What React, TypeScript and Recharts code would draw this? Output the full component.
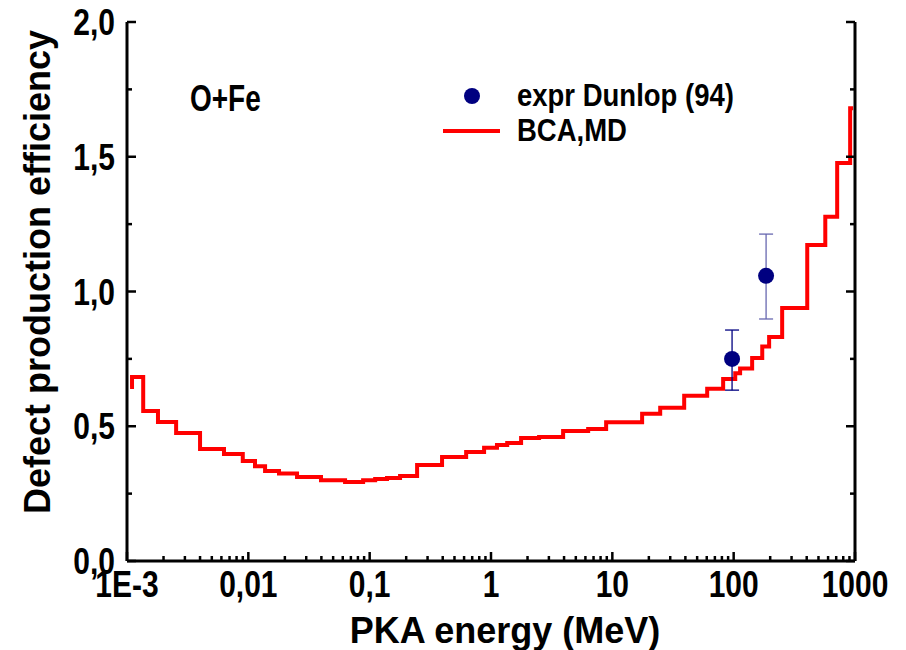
import React from "react";
import {
  ComposedChart,
  Line,
  Scatter,
  ErrorBar,
  XAxis,
  YAxis,
  Customized,
} from "recharts";

// BCA,MD step curve: energy (MeV) where each step starts, and its value
const bcaEnergy = [
  0.00106, 0.0011, 0.00136, 0.0018, 0.00254, 0.004, 0.0063, 0.009, 0.01135,
  0.01374, 0.0179, 0.0252, 0.0397, 0.0627, 0.0883, 0.111, 0.139, 0.178, 0.246,
  0.395, 0.624, 0.877, 1.12, 1.36, 1.77, 2.49, 3.93, 6.32, 8.89, 17.6, 24.8,
  39.1, 60.5, 81.9, 103, 113, 142, 172, 196, 251, 404, 569, 713, 912, 965,
];
const bcaEff = [
  0.646, 0.683, 0.557, 0.516, 0.475, 0.416, 0.397, 0.371, 0.352, 0.334, 0.325,
  0.312, 0.3, 0.293, 0.3, 0.304, 0.308, 0.315, 0.356, 0.386, 0.404, 0.42, 0.43,
  0.438, 0.456, 0.46, 0.482, 0.49, 0.515, 0.546, 0.569, 0.613, 0.639, 0.675,
  0.697, 0.714, 0.753, 0.796, 0.831, 0.939, 1.173, 1.277, 1.477, 1.68, 1.68,
];

// expr Dunlop (94)
const dunlopEnergy = [97, 185];
const dunlopEff = [0.75, 1.058];
const dunlopErrLow = [0.116, 0.16];
const dunlopErrHigh = [0.107, 0.155];

const xMajor = [0.001, 0.01, 0.1, 1, 10, 100, 1000];
const xLabels = ["1E-3", "0,01", "0,1", "1", "10", "100", "1000"];
const yMajor = [0, 0.5, 1, 1.5, 2];
const yLabels = ["0,0", "0,5", "1,0", "1,5", "2,0"];
const yMinor = [0.25, 0.75, 1.25, 1.75];

const FONT = "'Liberation Sans', Arial, sans-serif";

const bcaData = bcaEnergy.map((e, i) => ({ e, v: bcaEff[i] }));
const dunlopData = dunlopEnergy.map((e, i) => ({
  e,
  v: dunlopEff[i],
  err: [dunlopErrLow[i], dunlopErrHigh[i]],
}));

const xMinor: number[] = [];
xMajor.slice(0, -1).forEach((d) => {
  for (let k = 2; k <= 9; k++) xMinor.push(d * k);
});
const xTicks = [...xMajor, ...xMinor];

const isMajorX = (v: number) => xMajor.findIndex((m) => Math.abs(v / m - 1) < 1e-6);

// bold text, a bit taller than wide like the original export
const SText = ({ x, y, sy = 1.2, size, anchor = "start", children }: any) => (
  <text
    transform={`translate(${x},${y}) scale(1,${sy})`}
    x={0}
    y={0}
    textAnchor={anchor}
    fontFamily={FONT}
    fontWeight="bold"
    fontSize={size}
    fill="#000"
  >
    {children}
  </text>
);

const XTick = (props: any) => {
  const { x, y, payload } = props;
  const idx = isMajorX(payload.value);
  const major = idx >= 0;
  return (
    <g>
      <line x1={x} x2={x} y1={y} y2={y - (major ? 9 : 5)} stroke="#000" strokeWidth={2.5} />
      {major && (
        <SText x={x} y={y + 36} size={30} anchor="middle">
          {xLabels[idx]}
        </SText>
      )}
    </g>
  );
};

const YTickLeft = (props: any) => {
  const { x, y, payload } = props;
  const idx = yMajor.indexOf(payload.value);
  const major = idx >= 0;
  return (
    <g>
      <line x1={x} x2={x + (major ? 9 : 5)} y1={y} y2={y} stroke="#000" strokeWidth={2.5} />
      {major && (
        <SText x={x - 12} y={y + 13} size={30} anchor="end">
          {yLabels[idx]}
        </SText>
      )}
    </g>
  );
};

const YTickRight = (props: any) => {
  const { x, y, payload } = props;
  const major = yMajor.indexOf(payload.value) >= 0;
  return (
    <line x1={x} x2={x - (major ? 9 : 5)} y1={y} y2={y} stroke="#000" strokeWidth={2.5} />
  );
};

const Dot = (props: any) => {
  const { cx, cy } = props;
  return <circle cx={cx} cy={cy} r={8} fill="#000080" />;
};

const Overlay = () => (
  <g>
    <SText x={190} y={111} size={28} sy={1.35}>
      O+Fe
    </SText>
    <circle cx={472} cy={96} r={8} fill="#000080" />
    <SText x={517} y={106} size={27.5} sy={1.15}>
      expr Dunlop (94)
    </SText>
    <line x1={443} x2={500} y1={131} y2={131} stroke="#ff0000" strokeWidth={4} />
    <SText x={517} y={141} size={27.5} sy={1.15}>
      BCA,MD
    </SText>
    <SText x={505} y={643} size={36} sy={1.05} anchor="middle">
      PKA energy (MeV)
    </SText>
    <text
      x={0}
      y={0}
      fontFamily={FONT}
      fontWeight="bold"
      fontSize={36}
      textAnchor="middle"
      fill="#000"
      transform="translate(50, 272) rotate(-90)"
    >
      Defect production efficiency
    </text>
  </g>
);

export default function App() {
  return (
    <div style={{ position: "absolute", left: 0, top: 0, background: "#fff" }}>
      <ComposedChart
        width={906}
        height={650}
        margin={{ top: 22, right: 0, left: 0, bottom: 0 }}
      >
        <XAxis
          dataKey="e"
          type="number"
          scale="log"
          domain={[0.001, 1000]}
          allowDataOverflow
          ticks={xTicks}
          interval={0}
          height={89}
          tickSize={0}
          tickMargin={0}
          tickLine={false}
          axisLine={{ stroke: "#000", strokeWidth: 3 }}
          tick={<XTick />}
        />
        <YAxis
          yAxisId="l"
          type="number"
          domain={[0, 2]}
          allowDataOverflow
          ticks={[...yMajor, ...yMinor]}
          interval={0}
          width={127}
          tickSize={0}
          tickMargin={0}
          tickLine={false}
          axisLine={{ stroke: "#000", strokeWidth: 3 }}
          tick={<YTickLeft />}
        />
        <YAxis
          yAxisId="r"
          orientation="right"
          type="number"
          domain={[0, 2]}
          allowDataOverflow
          ticks={[...yMajor, ...yMinor]}
          interval={0}
          width={51}
          tickSize={0}
          tickMargin={0}
          tickLine={false}
          axisLine={{ stroke: "#000", strokeWidth: 3 }}
          tick={<YTickRight />}
        />
        <Line
          yAxisId="l"
          data={bcaData}
          dataKey="v"
          type="stepAfter"
          stroke="#ff0000"
          strokeWidth={4}
          dot={false}
          isAnimationActive={false}
        />
        <Scatter
          yAxisId="l"
          data={dunlopData.slice(0, 1)}
          dataKey="v"
          shape={<Dot />}
          isAnimationActive={false}
        >
          <ErrorBar dataKey="err" direction="y" width={7} stroke="#000080" strokeWidth={1.3} />
        </Scatter>
        <Scatter
          yAxisId="l"
          data={dunlopData.slice(1)}
          dataKey="v"
          shape={<Dot />}
          isAnimationActive={false}
        >
          <ErrorBar dataKey="err" direction="y" width={7} stroke="#6868b0" strokeWidth={1.3} />
        </Scatter>
        <Customized component={Overlay} />
      </ComposedChart>
    </div>
  );
}
